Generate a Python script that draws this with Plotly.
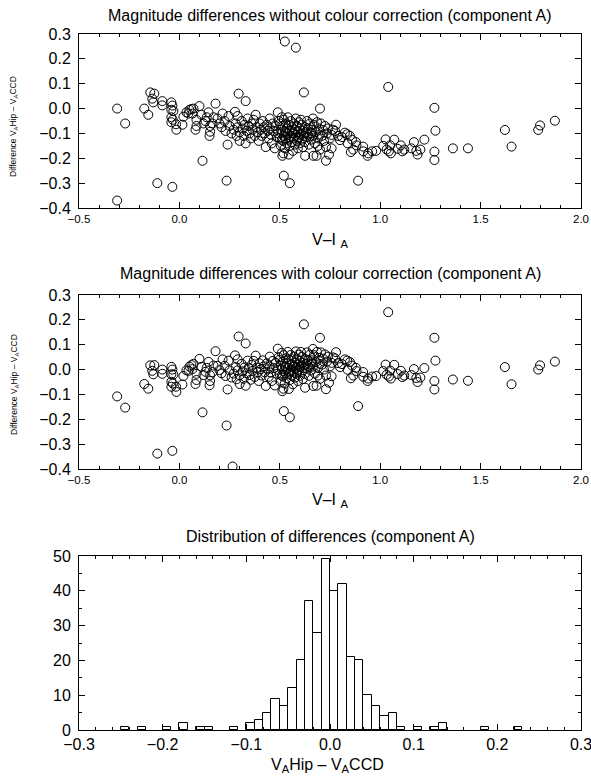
import plotly.graph_objects as go

# V-I colour of component A for each star (shared by both scatter panels)
vi = [
    -0.31, -0.31, -0.27, -0.11, -0.035, 0.115, -0.175, -0.155, -0.145, -0.125,
    -0.135, -0.13, -0.085, -0.085, -0.04, -0.035, -0.04, -0.03, -0.04, -0.04,
    -0.033, -0.015, -0.017, 0.015, 0.02, 0.035, 0.05, 0.06, 0.07, 0.065,
    0.045, 0.1, 0.085, 0.08, 0.085, 0.11, 0.13,
    0.145, 0.18, 0.17, 0.136, 0.12, 0.153, 0.15, 0.153, 0.235, 0.24,
    0.295, 0.33, 0.277, 0.29, 0.265, 0.19, 0.2, 0.21, 0.225, 0.23,
    0.25, 0.26, 0.27, 0.28, 0.285, 0.3, 0.165, 0.245, 0.215, 0.3,
    0.29,
    0.31, 0.315, 0.32, 0.325, 0.33, 0.335, 0.34, 0.345, 0.35, 0.355,
    0.36, 0.365, 0.37, 0.375, 0.38, 0.385, 0.39, 0.395, 0.4, 0.405,
    0.41, 0.415, 0.42, 0.425, 0.43, 0.435, 0.44, 0.445, 0.45, 0.45,
    0.455, 0.46, 0.465, 0.47, 0.475, 0.48, 0.485, 0.49, 0.49, 0.495,
    0.525, 0.58, 0.62, 0.70, 0.52, 0.55, 0.513, 0.518, 0.545, 0.626,
    0.667, 0.5, 0.5, 0.505, 0.505, 0.51, 0.51, 0.515, 0.515, 0.52,
    0.52, 0.525, 0.525, 0.53, 0.53, 0.535, 0.535, 0.54, 0.54, 0.545,
    0.545, 0.55, 0.55, 0.555, 0.555, 0.56, 0.56, 0.565, 0.565, 0.57,
    0.57, 0.575, 0.575, 0.58, 0.58, 0.585, 0.585, 0.59, 0.59, 0.595,
    0.595, 0.6, 0.6, 0.605, 0.605, 0.61, 0.61, 0.615, 0.615, 0.62,
    0.625, 0.625, 0.63, 0.635, 0.635, 0.64, 0.645, 0.65, 0.65, 0.655,
    0.66, 0.665, 0.665, 0.67, 0.675, 0.68, 0.685, 0.69, 0.69, 0.695,
    0.7, 0.683, 0.53, 0.56, 0.59, 0.62, 0.55, 0.57, 0.6, 0.64,
    0.51, 0.66,
    0.705, 0.716, 0.74, 0.758, 0.72, 0.73, 0.745, 0.758, 0.775, 0.78,
    0.8, 0.824, 0.836, 0.838, 0.849, 0.854, 0.866, 0.879, 0.882, 0.89,
    0.71, 0.725, 0.735, 0.75, 0.765, 0.79, 0.81, 0.73, 0.7, 0.86,
    0.915, 0.916, 0.937, 0.94, 0.96, 0.98, 1.015, 1.027, 1.032, 1.04,
    1.043, 1.05, 1.053, 1.07, 1.087, 1.103, 1.11, 1.12, 1.155, 1.168,
    1.18, 1.186, 1.2, 1.22,
    1.27, 1.275, 1.27, 1.27, 1.362, 1.437, 1.621, 1.654, 1.787, 1.796, 1.87,
]

# V_A(Hip) - V_A(CCD) without colour correction
d_raw = [
    0.0, -0.37, -0.06, -0.30, -0.315, -0.21, 0.0, -0.025, 0.065, 0.06,
    0.04, 0.025, 0.03, 0.013, 0.025, 0.012, -0.005, -0.01, -0.035, -0.055,
    -0.045, -0.085, -0.063, -0.065, -0.033, -0.015, -0.005, -0.002, 0.0, -0.02,
    -0.02, 0.01, -0.045, -0.085, -0.07, -0.025, -0.05,
    -0.015, 0.02, -0.035, -0.035, -0.06, -0.07, -0.11, -0.093, -0.29, -0.145,
    0.06, 0.03, -0.013, -0.03, -0.458, -0.04, -0.06, -0.075, -0.05, -0.09,
    -0.07, -0.1, -0.085, -0.06, -0.11, -0.095, -0.06, -0.03, -0.02, -0.13,
    -0.075,
    -0.05, -0.08, -0.11, -0.065, -0.14, -0.09, -0.04, -0.07, -0.1, -0.12,
    -0.06, -0.085, -0.045, -0.11, -0.025, -0.075, -0.095, -0.13, -0.06, -0.085,
    -0.11, -0.05, -0.075, -0.1, -0.155, -0.065, -0.09, -0.12, -0.04, -0.08,
    -0.105, -0.14, -0.06, -0.09, -0.16, -0.07, -0.115, -0.015, -0.1, -0.05,
    0.27, 0.245, 0.065, 0.0, -0.27, -0.30, -0.19, -0.18, -0.185, -0.19,
    -0.19, -0.06, -0.12, -0.085, -0.15, -0.035, -0.1, -0.07, -0.13, -0.045,
    -0.11, -0.09, -0.16, -0.06, -0.12, -0.08, -0.14, -0.035, -0.1, -0.065,
    -0.125, -0.09, -0.15, -0.05, -0.11, -0.075, -0.135, -0.1, -0.17, -0.06,
    -0.12, -0.085, -0.145, -0.04, -0.105, -0.07, -0.13, -0.095, -0.16, -0.055,
    -0.115, -0.08, -0.14, -0.1, -0.045, -0.125, -0.065, -0.09, -0.155, -0.11,
    -0.075, -0.135, -0.095, -0.05, -0.115, -0.08, -0.145, -0.1, -0.06, -0.125,
    -0.085, -0.04, -0.11, -0.065, -0.14, -0.095, -0.055, -0.15, -0.12, -0.08,
    -0.105, -0.19, -0.095, -0.09, -0.12, -0.1, -0.12, -0.1, -0.105, -0.105,
    -0.125, -0.1,
    -0.06, -0.086, -0.08, -0.106, -0.13, -0.21, -0.185, -0.16, -0.09, -0.065,
    -0.127, -0.097, -0.103, -0.14, -0.11, -0.175, -0.165, -0.135, -0.148, -0.29,
    -0.11, -0.07, -0.1, -0.12, -0.085, -0.11, -0.115, -0.155, -0.165, -0.125,
    -0.153, -0.172, -0.19, -0.18, -0.172, -0.17, -0.15, -0.124, -0.165, 0.087,
    -0.172, -0.148, -0.18, -0.125, -0.162, -0.148, -0.172, -0.165, -0.16, -0.135,
    -0.17, -0.185, -0.165, -0.125,
    0.003, -0.089, -0.173, -0.207, -0.16, -0.16, -0.086, -0.153, -0.086, -0.068, -0.049,
]

# V_A(Hip) - V_A(CCD) after colour correction
d_corr = [
    -0.108, -0.478, -0.153, -0.338, -0.327, -0.172, -0.058, -0.077, 0.017, 0.018,
    -0.005, -0.019, 0.0, -0.017, 0.011, 0.0, -0.019, -0.02, -0.049, -0.069,
    -0.056, -0.09, -0.069, -0.06, -0.026, -0.003, 0.012, 0.018, 0.023, 0.002,
    -0.005, 0.043, -0.017, -0.058, -0.042, 0.011, -0.009,
    0.031, 0.074, 0.016, 0.007, -0.022, -0.023, -0.063, -0.046, -0.225, -0.08,
    0.133, 0.105, 0.057, 0.041, -0.39, 0.015, -0.002, -0.015, 0.015, -0.026,
    -0.003, -0.032, -0.016, 0.01, -0.039, -0.023, -0.01, 0.036, 0.041, -0.058,
    -0.003,
    0.023, -0.007, -0.037, 0.009, -0.065, -0.015, 0.036, 0.007, -0.022, -0.041,
    0.019, -0.005, 0.035, -0.03, 0.056, 0.008, -0.011, -0.046, 0.025, 0.001,
    -0.024, 0.037, 0.013, -0.011, -0.066, 0.025, 0.001, -0.029, 0.052, 0.012,
    -0.012, -0.046, 0.035, 0.006, -0.064, 0.027, -0.017, 0.084, -0.001, 0.049,
    0.373, 0.358, 0.182, 0.128, -0.167, -0.192, -0.087, -0.077, -0.078, -0.073,
    -0.066, 0.04, -0.02, 0.016, -0.049, 0.067, 0.001, 0.032, -0.028, 0.058,
    -0.007, 0.014, -0.056, 0.045, -0.015, 0.025, -0.035, 0.071, 0.006, 0.042,
    -0.018, 0.018, -0.042, 0.059, -0.001, 0.035, -0.025, 0.011, -0.059, 0.052,
    -0.008, 0.027, -0.033, 0.073, 0.008, 0.044, -0.016, 0.019, -0.046, 0.06,
    0.0, 0.035, -0.025, 0.016, 0.071, -0.009, 0.051, 0.027, -0.038, 0.007,
    0.043, -0.017, 0.023, 0.069, 0.004, 0.039, -0.025, 0.02, 0.06, -0.004,
    0.037, 0.083, 0.012, 0.058, -0.016, 0.03, 0.071, -0.024, 0.006, 0.047,
    0.023, -0.065, 0.01, 0.02, -0.005, 0.017, -0.012, 0.012, 0.01, 0.014,
    -0.024, 0.022,
    0.069, 0.044, 0.052, 0.027, 0.0, -0.079, -0.053, -0.027, 0.045, 0.07,
    0.01, 0.041, 0.036, -0.001, 0.03, -0.035, -0.024, 0.007, -0.006, -0.147,
    0.02, 0.061, 0.032, 0.013, 0.049, 0.026, 0.022, -0.024, -0.037, 0.016,
    -0.01, -0.029, -0.046, -0.036, -0.028, -0.026, -0.006, 0.02, -0.021, 0.231,
    -0.028, -0.004, -0.036, 0.019, -0.018, -0.005, -0.03, -0.024, -0.022, 0.002,
    -0.034, -0.05, -0.032, 0.006,
    0.128, 0.036, -0.046, -0.08, -0.04, -0.045, 0.01, -0.059, 0.0, 0.017, 0.032,
]

# histogram of corrected differences: left bin edges (width 0.01) and counts
bin_left = [-0.25, -0.23, -0.20, -0.18, -0.16, -0.15, -0.12, -0.10, -0.09, -0.08,
            -0.07, -0.06, -0.05, -0.04, -0.03, -0.02, -0.01, 0.00, 0.01, 0.02,
            0.03, 0.04, 0.05, 0.06, 0.07, 0.08, 0.10, 0.12, 0.13, 0.18, 0.22]
counts = [1, 1, 1, 2, 1, 1, 1, 2, 3, 5,
          9, 7, 12, 20, 37, 28, 49, 40, 42, 21,
          20, 10, 7, 4, 5, 1, 1, 1, 2, 1, 1]

titles = ["Magnitude differences without colour correction (component A)",
          "Magnitude differences with colour correction (component A)",
          "Distribution of differences (component A)"]

assert len(vi) == len(d_raw) == len(d_corr)
assert len(bin_left) == len(counts)

FONT = "Liberation Sans, Arial, Helvetica, sans-serif"
W, H = 591, 776

marker = dict(symbol="circle-open", size=9, color="black", line=dict(width=1))

fig = go.Figure()
fig.add_trace(go.Scatter(x=vi, y=d_raw, mode="markers", marker=marker,
                         xaxis="x", yaxis="y", showlegend=False))
fig.add_trace(go.Scatter(x=vi, y=d_corr, mode="markers", marker=marker,
                         xaxis="x2", yaxis="y2", showlegend=False))
fig.add_trace(go.Bar(x=bin_left, y=counts, offset=0, width=0.01,
                     marker=dict(color="white", line=dict(color="black", width=1)),
                     xaxis="x3", yaxis="y3", showlegend=False))

def px(p):  # screen column -> paper fraction
    return p / W

def py(p):  # screen row -> paper fraction
    return 1 - p / H

xdom = [px(79), px(581)]
common = dict(showline=True, linecolor="black", linewidth=1, mirror="ticks",
              ticks="inside", ticklen=6, tickcolor="black", showgrid=False,
              zeroline=False, automargin=False, ticklabeloverflow="allow")

def xaxis_sc(anchor):
    return dict(common, domain=xdom, anchor=anchor, range=[-0.5, 2.0],
                dtick=0.5, tick0=0, tickformat=".1f",
                tickfont=dict(family=FONT, size=11.5, color="black"),
                minor=dict(ticks="inside", ticklen=3, dtick=0.1, tick0=0,
                           tickcolor="black", showgrid=False))

def yaxis_sc(anchor, dom):
    return dict(common, domain=dom, anchor=anchor, range=[-0.4, 0.3],
                dtick=0.1, tick0=0, tickformat=".1f", ticklabelstandoff=4,
                tickfont=dict(family=FONT, size=16, color="black"))

fig.update_layout(
    width=W, height=H,
    margin=dict(l=0, r=0, t=0, b=0),
    paper_bgcolor="white", plot_bgcolor="white",
    bargap=0,
    xaxis=xaxis_sc("y"),
    yaxis=yaxis_sc("x", [py(208), py(34)]),
    xaxis2=xaxis_sc("y2"),
    yaxis2=yaxis_sc("x2", [py(469), py(295)]),
    xaxis3=dict(common, domain=xdom, anchor="y3", range=[-0.3, 0.3],
                dtick=0.1, tick0=0, tickformat=".1f",
                tickfont=dict(family=FONT, size=16, color="black"),
                minor=dict(ticks="inside", ticklen=3, dtick=0.02, tick0=0,
                           tickcolor="black", showgrid=False)),
    yaxis3=dict(common, domain=[py(730), py(556)], anchor="x3", range=[0, 50],
                dtick=10, tick0=0, ticklabelstandoff=4,
                tickfont=dict(family=FONT, size=16, color="black"),
                minor=dict(ticks="inside", ticklen=3, dtick=5, tick0=0,
                           tickcolor="black", showgrid=False)),
)

ann = []
for t, y in zip(titles, [15, 273, 536]):
    ann.append(dict(text=t, x=px(330), y=py(y), xref="paper", yref="paper",
                    xanchor="center", yanchor="middle", showarrow=False,
                    font=dict(family=FONT, size=16, color="black")))
for y in [240, 500]:
    ann.append(dict(text="V–I <sub>A</sub>", x=px(330), y=py(y), xref="paper",
                    yref="paper", xanchor="center", yanchor="middle",
                    showarrow=False, font=dict(family=FONT, size=16, color="black")))
for y in [127, 385]:
    ann.append(dict(text="Difference V<sub>A</sub>Hip – V<sub>A</sub>CCD",
                    x=px(14), y=py(y), xref="paper", yref="paper",
                    xanchor="center", yanchor="middle", textangle=-90,
                    showarrow=False, font=dict(family=FONT, size=8.5, color="black")))
ann.append(dict(text="V<sub>A</sub>Hip – V<sub>A</sub>CCD", x=px(327), y=py(765),
                xref="paper", yref="paper", xanchor="center", yanchor="middle",
                showarrow=False, font=dict(family=FONT, size=16, color="black")))
fig.update_layout(annotations=ann)

# drop the browser's default page margin so the figure sits at the window corner
fig.write_html("out.html", config={"displayModeBar": False}, post_script=(
    "document.body.style.margin='0';"
    "document.body.style.overflow='hidden';"
    "document.documentElement.style.overflow='hidden';"))
